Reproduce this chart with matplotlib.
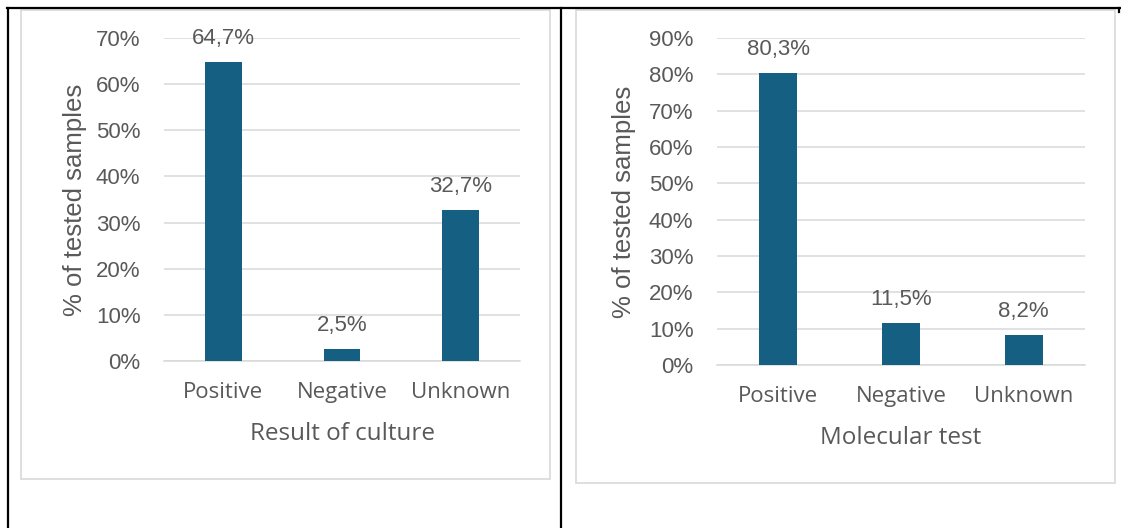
import matplotlib
matplotlib.use("Agg")
import matplotlib.pyplot as plt
from matplotlib.patches import Rectangle
from matplotlib.lines import Line2D
from matplotlib.ticker import PercentFormatter

categories = ["Positive", "Negative", "Unknown"]
culture_values = [64.7, 2.5, 32.7]
molecular_values = [80.3, 11.5, 8.2]
culture_ticks = [0, 10, 20, 30, 40, 50, 60, 70]
molecular_ticks = [0, 10, 20, 30, 40, 50, 60, 70, 80, 90]

W, H = 1121, 528
BAR = "#156082"
TEXT = "#595959"
GRID = "#D9D9D9"
NUM_FONT = "Liberation Sans"
CAT_FONT = "Open Sans"


def px_box(x0, y0, x1, y1):
    # pixel box (top-left origin) -> figure fraction [left, bottom, width, height]
    return [x0 / W, 1 - y1 / H, (x1 - x0) / W, (y1 - y0) / H]


fig = plt.figure(figsize=(W / 100, H / 100), dpi=100)
fig.patch.set_facecolor("white")

# table borders
for xs, ys in [((7, W), (8, 8)), ((8, 8), (8, H)), ((561, 561), (8, H)), ((1119, 1119), (8, 12))]:
    fig.add_artist(Line2D([x / W for x in xs], [1 - y / H for y in ys],
                          color="black", lw=1.6, transform=fig.transFigure))

# chart frames
for x0, y0, x1, y1 in [(21, 10, 550, 479), (576, 10, 1115, 483)]:
    fig.add_artist(Rectangle((x0 / W, 1 - y1 / H), (x1 - x0) / W, (y1 - y0) / H,
                             fill=False, ec=GRID, lw=1.2, transform=fig.transFigure))


def draw_chart(box, values, ticks, xlabel, title_x):
    ax = fig.add_axes(px_box(*box))
    x = range(len(categories))
    ax.bar(x, values, width=0.31, color=BAR, zorder=3)
    ax.set_xlim(-0.5, len(categories) - 0.5)
    ax.set_ylim(0, ticks[-1])
    ax.set_yticks(ticks)
    ax.yaxis.set_major_formatter(PercentFormatter(decimals=0))
    ax.grid(axis="y", color=GRID, lw=1.1, zorder=0)
    for side in ["top", "right", "left"]:
        ax.spines[side].set_visible(False)
    ax.spines["bottom"].set_color(GRID)
    ax.spines["bottom"].set_linewidth(1.1)
    ax.tick_params(axis="both", length=0, colors=TEXT)
    ax.tick_params(axis="y", pad=17, labelsize=16)
    ax.tick_params(axis="x", pad=15, labelsize=16)
    for lab in ax.get_yticklabels():
        lab.set_fontfamily(NUM_FONT)
    ax.set_xticks(list(x))
    ax.set_xticklabels(categories, fontfamily=CAT_FONT, color=TEXT)
    ax.set_xlabel(xlabel, fontfamily=CAT_FONT, fontsize=17.5, color=TEXT, labelpad=13.5)
    ax.set_ylabel("% of tested samples", fontfamily=NUM_FONT, fontsize=18.5,
                  color=TEXT, va="center")
    ax.yaxis.set_label_coords(title_x, 0.5)
    for xi, v in zip(x, values):
        ax.annotate(f"{v:.1f}%".replace(".", ","), (xi, v), xytext=(0, 17),
                    textcoords="offset points", ha="center", va="center",
                    fontsize=16, fontfamily=NUM_FONT, color=TEXT)
    return ax


ax1 = draw_chart((164, 38, 520, 361), culture_values, culture_ticks,
                 "Result of culture", -0.25)
ax2 = draw_chart((717, 38, 1085, 365), molecular_values, molecular_ticks,
                 "Molecular test", -0.253)

fig.savefig("out.png", dpi=100)
